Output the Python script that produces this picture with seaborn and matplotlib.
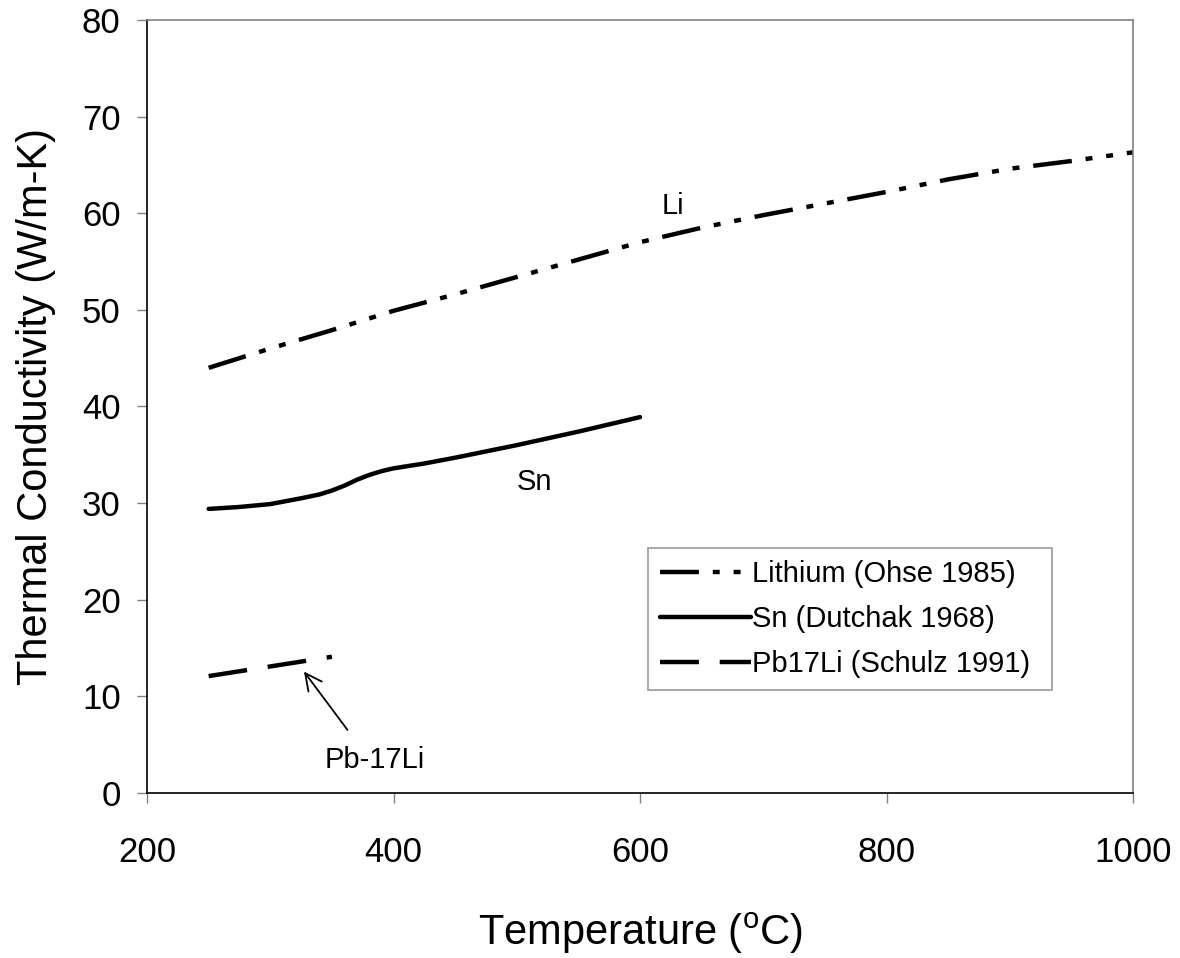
import matplotlib
matplotlib.use("Agg")
import matplotlib.pyplot as plt
import seaborn as sns
import pandas as pd

# thermal conductivity
li_temp = [250, 300, 350, 400, 450, 500, 550, 600, 650, 700, 750, 800, 850, 900, 950, 1000]
li_k = [44.0, 46.0, 47.9, 49.9, 51.6, 53.4, 55.2, 57.0, 58.5, 59.8, 61.0, 62.2, 63.5, 64.6, 65.4, 66.3]

sn_temp = [250, 275, 300, 325, 340, 350, 360, 370, 380, 390, 400, 425, 450, 500, 550, 600]
sn_k = [29.4, 29.6, 29.9, 30.5, 30.9, 31.3, 31.8, 32.4, 32.9, 33.3, 33.6, 34.1, 34.7, 36.0, 37.4, 38.9]

pb_temp = [250, 350]
pb_k = [12.1, 14.1]

labels = ["Lithium (Ohse 1985)", "Sn (Dutchak 1968)", "Pb17Li (Schulz 1991)"]

sns.set_theme(style="ticks")
plt.rcParams['font.family'] = ['Liberation Sans', 'DejaVu Sans']
plt.rcParams['lines.scale_dashes'] = False
plt.rcParams['text.color'] = 'black'
plt.rcParams['axes.labelcolor'] = 'black'
plt.rcParams['xtick.labelcolor'] = 'black'
plt.rcParams['ytick.labelcolor'] = 'black'

li = pd.DataFrame({"T": li_temp, "k": li_k})
sn = pd.DataFrame({"T": sn_temp, "k": sn_k})
pb = pd.DataFrame({"T": pb_temp, "k": pb_k})

fig = plt.figure(figsize=(11.8, 9.58), dpi=100)
ax = fig.add_axes([0.1246, 0.1722, 0.8356, 0.807])

lw = 3.2
sns.lineplot(data=li, x="T", y="k", ax=ax, color="black", lw=lw,
             linestyle=(0, (28, 10, 5, 10, 5, 10)), label=labels[0])
sns.lineplot(data=sn, x="T", y="k", ax=ax, color="black", lw=lw,
             linestyle="-", label=labels[1])
sns.lineplot(data=pb, x="T", y="k", ax=ax, color="black", lw=lw,
             linestyle=(0, (28, 15)), label=labels[2])

ax.set_xlim(200, 1000)
ax.set_ylim(0, 80)
ax.set_xticks(range(200, 1001, 200))
ax.set_yticks(range(0, 81, 10))
ax.tick_params(axis="both", labelsize=25, color="#808080", length=7, width=1)
ax.tick_params(axis="x", pad=24)
ax.tick_params(axis="y", pad=12)

for s in ["left", "bottom"]:
    ax.spines[s].set_color("black")
    ax.spines[s].set_linewidth(1.2)
for s in ["top", "right"]:
    ax.spines[s].set_visible(True)
    ax.spines[s].set_color("#808080")
    ax.spines[s].set_linewidth(1.2)

ax.set_xlabel("Temperature ($^\\mathregular{o}$C)", fontsize=30)
ax.set_ylabel("Thermal Conductivity (W/m-K)", fontsize=30)
ax.xaxis.set_label_coords(0.5, -0.152)
ax.yaxis.set_label_coords(-0.092, 0.5)

ax.text(627, 59.9, "Li", fontsize=21, ha="center", va="baseline")
ax.text(514, 31.4, "Sn", fontsize=21, ha="center", va="baseline")
ax.text(385, 2.6, "Pb-17Li", fontsize=21, ha="center", va="baseline")
ax.annotate("", xy=(326, 12.8), xytext=(364, 6.3),
            arrowprops=dict(arrowstyle="->", lw=1.3, color="black", mutation_scale=30))

leg = ax.legend(loc="upper left",
                bbox_to_anchor=(648 / 1180, 1 - 688 / 958, 404 / 1180, 140 / 958),
                bbox_transform=fig.transFigure, mode="expand", borderaxespad=0,
                frameon=True, fancybox=False, edgecolor="#808080", handlelength=3.1,
                handletextpad=0.05, borderpad=0.42, labelspacing=0.58, fontsize=21)
leg.get_frame().set_linewidth(1.2)

fig.savefig("out.png", dpi=100, facecolor="white")
